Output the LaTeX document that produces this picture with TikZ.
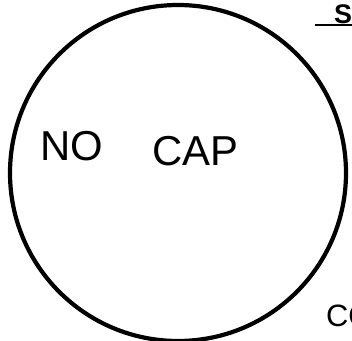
\documentclass[tikz,border=0pt]{standalone}
\usepackage{fontspec}
\setmainfont{Liberation Sans}
\begin{document}
\begin{tikzpicture}[x=1bp,y=-1bp,
  lbl/.style={inner sep=0pt, anchor=base west, font=#1},
  lbl/.default={\fontsize{42}{42}\selectfont}]
\useasboundingbox (0,0) rectangle (352,341);
\clip (0,0) rectangle (352,341);
\node[circle, draw, line width=4.2bp, minimum size=336bp, inner sep=0pt] (ring) at (178,173) {};
\node[lbl] (no) at (40,160) {NO};
\node[lbl] (cap) at (152,165) {CAP};
\node[lbl={\fontsize{27}{27}\selectfont\bfseries}] (s) at (334,23) {S};
\coordinate (ul1) at (315,25);
\coordinate (ul2) at (352,25);
\draw[line width=2.6bp] (ul1) -- (ul2);
\node[lbl={\fontsize{31}{31}\selectfont}] (co) at (326,326) {CO};
\end{tikzpicture}
\end{document}
